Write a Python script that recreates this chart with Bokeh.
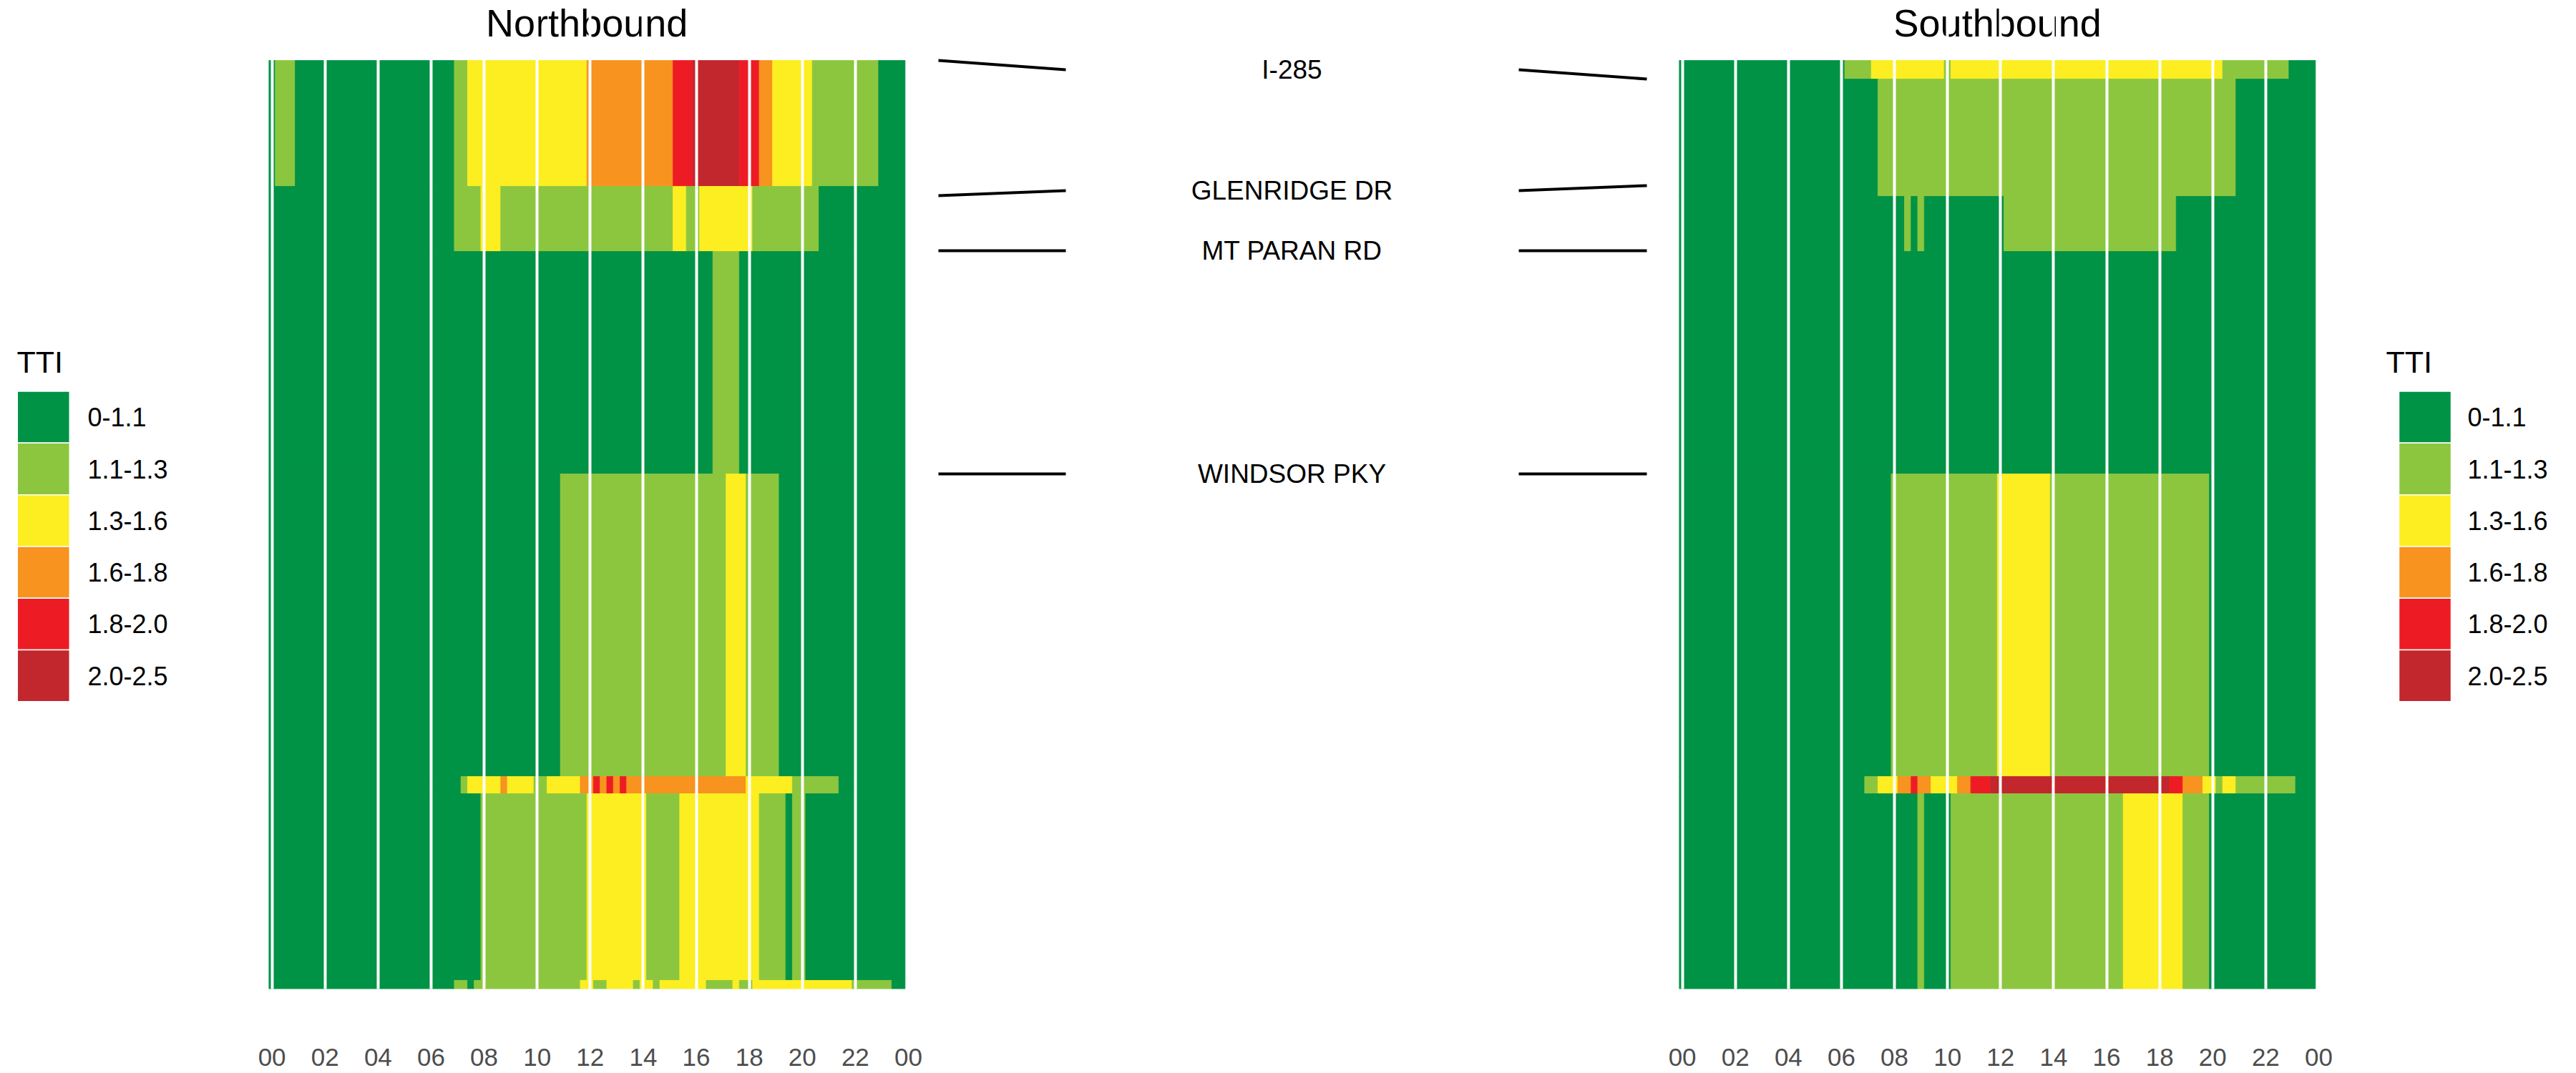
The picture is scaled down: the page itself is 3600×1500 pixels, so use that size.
from bokeh.plotting import figure
from bokeh.layouts import row
from bokeh.models import Range1d, FixedTicker
from bokeh.core.properties import value
from bokeh.embed import file_html
from bokeh.resources import INLINE

# ---------------- data ----------------
tti_labels = ["0-1.1", "1.1-1.3", "1.3-1.6", "1.6-1.8", "1.8-2.0", "2.0-2.5"]
tti_colors = ["#009245", "#8CC63F", "#FCEE21", "#F7931E", "#ED1C24", "#C1272D"]

hour_ticks = [0, 2, 4, 6, 8, 10, 12, 14, 16, 18, 20, 22, 24]
hour_tick_labels = ["00", "02", "04", "06", "08", "10", "12", "14", "16", "18", "20", "22", "00"]
slot_hours = 0.25          # 15-minute intervals, 96 per day

# segment boundaries (miles from I-285)
nb_row_edges = [0.0, 0.44, 0.6675, 1.445, 2.5025, 2.5625, 3.215, 3.245]
sb_row_edges = [0.0, 0.065, 0.475, 0.6675, 1.445, 2.5025, 2.5625, 3.245]

# TTI category per 15-min slot (0 = 0-1.1 ... 5 = 2.0-2.5), 4 chunks of 6 hours
nb_rows = [
    "011100000000000000000000" "000011222222222222222222" "333333333333344455555554" "443322222211111111110000",
    "000000000000000000000000" "000011112221111111111111" "111111111111122112222222" "211111111110000000000000",
    "000000000000000000000000" "000000000000000000000000" "000000000000000000011110" "000000000000000000000000",
    "000000000000000000000000" "000000000000000000001111" "111111111111111111111222" "111110000000000000000000",
    "000000000000000000000000" "000001222223222211222223" "343434333333333333333333" "222222211111110000000000",
    "000000000000000000000000" "000000001111111111111111" "222222222111112222222222" "221111011000000000000000",
    "000000000000000000000000" "000011011111111111111112" "211222212212222222111121" "122222222222222211111100",
]
sb_rows = [
    "000000000000000000000000" "011112222222222212222222" "222222222222222222222222" "222222222211111111110000",
    "000000000000000000000000" "000000111111111111111111" "111111111111111111111111" "111111111111000000000000",
    "000000000000000000000000" "000000000010100000000000" "011111111111111111111111" "111000000000000000000000",
    "000000000000000000000000" "000000000000000000000000" "000000000000000000000000" "000000000000000000000000",
    "000000000000000000000000" "000000001111111111111111" "222222221111111111111111" "111111110000000000000000",
    "000000000000000000000000" "000011222334332222334445" "555555555555555555555555" "554433322122111111111000",
    "000000000000000000000000" "000000000000100001111111" "111111111111111111122222" "222211110000000000000000",
]

streets = ["I-285", "GLENRIDGE DR", "MT PARAN RD", "WINDSOR PKY"]
nb_street_mi = [0.0, 0.4725, 0.665, 1.445]
sb_street_mi = [0.065, 0.4375, 0.665, 1.445]

for r in nb_rows + sb_rows:
    assert len(r) == 96, len(r)

# ---------------- layout constants ----------------
FONT = "Liberation Sans"
H = 1500
BOTTOM = 118                 # below-axis band
FRAME_H = H - BOTTOM         # every frame spans 0..1382 px
HEAT_TOP = 84                # heat map starts 84 px below the top
TITLE_MID = 31               # vertical centre of the panel titles (px)
SIDE = 40
FRAME_W = 894
LEG_L_W = 335
LEG_R_W = 320
MID_W = 3600 - LEG_L_W - LEG_R_W - 2 * (FRAME_W + 2 * SIDE)

x_start = -slot_hours / 2
x_end = 24.0
data_end = 24 - slot_hours / 2
total_mi = nb_row_edges[-1] - nb_row_edges[0]
px_per_mi = (FRAME_H - HEAT_TOP) / total_mi
y_top = nb_row_edges[0] - HEAT_TOP / px_per_mi


def base_fig(width, x_range, y_range, **kw):
    p = figure(width=width, height=H, x_range=x_range, y_range=y_range,
               output_backend="svg", toolbar_location=None,
               min_border_top=0, min_border_bottom=BOTTOM,
               outline_line_color=None, background_fill_color="white",
               border_fill_color="white", **kw)
    return p


def panel(edges, rows, title):
    p = base_fig(FRAME_W + 2 * SIDE, Range1d(x_start, x_end), Range1d(edges[-1], y_top),
                 min_border_left=SIDE, min_border_right=SIDE,
                 y_axis_location=None, x_axis_location="below")
    left, right, top, bottom, color = [], [], [], [], []
    for r, codes in enumerate(rows):
        start = 0
        for k in range(1, len(codes) + 1):
            if k == len(codes) or codes[k] != codes[start]:
                left.append(start * slot_hours - slot_hours / 2)
                right.append(k * slot_hours - slot_hours / 2)
                top.append(edges[r])
                bottom.append(edges[r + 1])
                color.append(tti_colors[int(codes[start])])
                start = k
    p.quad(left=left, right=right, top=top, bottom=bottom,
           fill_color=color, line_color=color, line_width=0.8)

    ax = p.xaxis[0]
    ax.ticker = FixedTicker(ticks=hour_ticks)
    ax.major_label_overrides = {t: s for t, s in zip(hour_ticks, hour_tick_labels)}
    ax.axis_line_color = None
    ax.major_tick_line_color = None
    ax.minor_tick_line_color = None
    ax.major_tick_out = 0
    ax.major_tick_in = 0
    ax.major_label_standoff = 83
    ax.major_label_text_font = FONT
    ax.major_label_text_font_size = "35px"
    ax.major_label_text_color = "#4D4D4D"

    p.xgrid.ticker = FixedTicker(ticks=hour_ticks[:-1])
    p.xgrid.grid_line_color = "white"
    p.xgrid.grid_line_width = 4
    p.xgrid.level = "overlay"
    p.ygrid.visible = False

    p.text(x=[(x_start + data_end) / 2], y=[edges[0] - (HEAT_TOP - TITLE_MID) / px_per_mi],
           text=[title], text_align="center", text_baseline="middle",
           text_font=value(FONT), text_font_size="54px", text_color="black")
    return p


def legend_fig(width, key_x, label_x, title_x):
    key_h = 72.3
    key_w = 73
    first_center = 582.7
    title_mid = 505.5
    p = base_fig(width, Range1d(0, width),
                 Range1d((FRAME_H - first_center) / key_h, -first_center / key_h),
                 min_border_left=0, min_border_right=0,
                 x_axis_location=None, y_axis_location=None)
    p.grid.visible = False
    idx = list(range(len(tti_labels)))
    p.rect(x=[key_x + key_w / 2] * len(idx), y=idx, width=key_w, height=1,
           fill_color=tti_colors, line_color="white", line_width=1.5)
    p.text(x=[label_x] * len(idx), y=idx, text=tti_labels,
           text_align="left", text_baseline="middle",
           text_font=value(FONT), text_font_size="36px", text_color="black")
    p.text(x=[title_x], y=[(title_mid - first_center) / key_h], text=["TTI"],
           text_align="left", text_baseline="middle",
           text_font=value(FONT), text_font_size="43px", text_color="black")
    return p


nb = panel(nb_row_edges, nb_rows, "Northbound")
sb = panel(sb_row_edges, sb_rows, "Southbound")

# middle annotation strip
mid = base_fig(MID_W, Range1d(0, MID_W), Range1d(nb_row_edges[-1], y_top),
               min_border_left=0, min_border_right=0,
               x_axis_location=None, y_axis_location=None)
mid.grid.visible = False
label_y = [(a + b) / 2 for a, b in zip(nb_street_mi, sb_street_mi)]
mid.segment(x0=[2] * 4, y0=nb_street_mi, x1=[180] * 4, y1=label_y,
            line_color="black", line_width=4)
mid.segment(x0=[813] * 4, y0=label_y, x1=[992] * 4, y1=sb_street_mi,
            line_color="black", line_width=4)
mid.text(x=[496] * 4, y=label_y, text=streets, text_align="center",
         text_baseline="middle", text_font=value(FONT), text_font_size="37px",
         text_color="black")

leg_l = legend_fig(LEG_L_W, 23.8, 122, 23)
leg_r = legend_fig(LEG_R_W, 72, 168, 54)

layout = row(leg_l, nb, mid, sb, leg_r)
open("out.html", "w").write(file_html(layout, INLINE))
